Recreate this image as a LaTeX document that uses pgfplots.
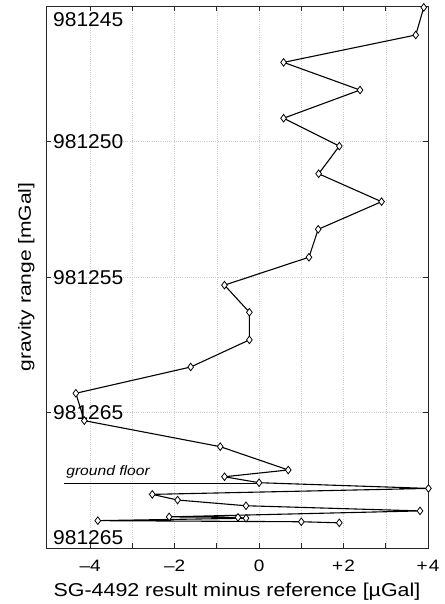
\documentclass[border=0pt]{standalone}
\usepackage{fontspec}
\setmainfont{Liberation Sans}
\usepackage{graphicx}
\usepackage{pgfplots}
\pgfplotsset{compat=1.18}
\pgfplotstableread{
x y
3.90 981245.05
3.71 981246.07
0.58 981247.08
2.39 981248.10
0.58 981249.14
1.90 981250.17
1.41 981251.19
2.90 981252.22
1.40 981253.24
1.18 981254.27
-0.82 981255.30
-0.23 981256.30
-0.23 981257.32
-1.62 981258.32
-4.34 981259.29
-4.14 981260.30
-0.92 981261.26
0.69 981262.12
-0.82 981262.37
0.00 981262.59
4.01 981262.80
-2.53 981263.02
-1.93 981263.23
-0.31 981263.44
3.81 981263.63
-2.13 981263.85
-0.50 981263.87
-0.31 981263.90
-3.82 981263.99
1.00 981264.03
1.90 981264.07
}\datatable
\newcommand{\xt}[1]{\scalebox{1.15}[1]{#1}}
\newcommand{\yt}[2]{\smash{\raisebox{#1}{\scalebox{1.05}[1]{#2}}}}
\begin{document}
\begin{tikzpicture}
\begin{axis}[
  at={(0,0)}, anchor=south west,
  scale only axis, width=382pt, height=542pt,
  xmin=-5.047, xmax=4, ymin=981245, ymax=981265,
  y dir=reverse,
  clip=false,
  axis line style={black!85, line width=0.9pt},
  xtick={-4,...,4},
  xticklabels={\xt{–4},,\xt{–2},,\xt{0},,\xt{+\kern1pt2},,\xt{+\kern1pt4}},
  xticklabel style={font=\fontsize{16.5}{18}\selectfont, inner sep=0pt, anchor=north, yshift=-12pt},
  ytick={981245,981250,981255,981260,981265},
  yticklabels={\yt{-20pt}{981245},\yt{-7.2pt}{981250},\yt{-7.2pt}{981255},\yt{-7.2pt}{981265},\yt{4pt}{981265}},
  yticklabel style={font=\fontsize{20}{22}\selectfont, inner sep=0pt, anchor=west, xshift=7pt},
  scaled y ticks=false,
  tick align=inside,
  major tick length=5pt,
  tick style={black!85, line width=0.8pt},
  xtick pos=both, ytick pos=both,
  grid=major,
  major grid style={gray!40, line width=0.5pt, dash pattern=on 1pt off 1.2pt},
  xlabel={\scalebox{1.15}[1]{SG-4492 result minus reference [µGal]}},
  xlabel style={font=\fontsize{18.6}{20}\selectfont, at={(axis description cs:0.5,-0.0897)}, anchor=base, inner sep=0pt},
  ylabel={\scalebox{1.2}[1]{gravity range [mGal]}},
  ylabel style={font=\fontsize{17.5}{19}\selectfont, at={(axis description cs:-0.0398,0.5)}, anchor=base, inner sep=0pt},
]
\addplot[black, line width=0.8pt] coordinates {(-4.62,981262.60) (0,981262.60)};
\addplot[black, line width=1.1pt, mark=diamond*, mark size=3.8pt,
  mark options={fill=white, draw=black, line width=0.8pt, solid}] table[x=x, y=y] {\datatable};
\node[anchor=base west, inner sep=0pt, font=\fontsize{13.6}{15}\selectfont\itshape] at (axis cs:-4.57,981262.31) {\scalebox{1.15}[1]{ground floor}};
\end{axis}
\pgfresetboundingbox
\useasboundingbox (-46pt,-56pt) rectangle (398pt,548pt);
\end{tikzpicture}
\end{document}
